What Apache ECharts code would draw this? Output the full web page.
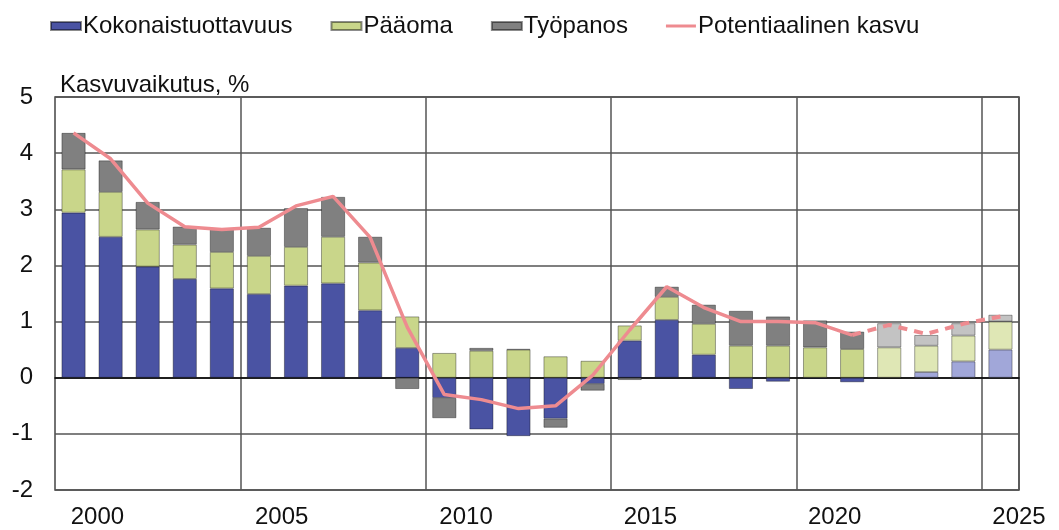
<!DOCTYPE html>
<html>
<head>
<meta charset="utf-8">
<script src="https://cdn.jsdelivr.net/npm/echarts@6/dist/echarts.min.js"></script>
<style>
  html, body { margin: 0; padding: 0; background: #fff; }
  #chart { width: 1059px; height: 530px; }
</style>
</head>
<body>
<div id="chart"></div>
<script>
// vuodet 1999-2024, viimeiset neljä ennustetta
const years = ['1999','2000','2001','2002','2003','2004','2005','2006','2007','2008',
  '2009','2010','2011','2012','2013','2014','2015','2016','2017','2018',
  '2019','2020','2021','2022','2023','2024']
const tfp = [2.94, 2.51, 1.98, 1.76, 1.59, 1.49, 1.64, 1.68, 1.20, 0.53,
  -0.36, -0.92, -1.04, -0.73, -0.11, 0.66, 1.03, 0.41, -0.20, -0.07,
  -0.02, -0.08, 0.00, 0.10, 0.29, 0.50]
const capital = [0.77, 0.80, 0.66, 0.61, 0.65, 0.68, 0.69, 0.83, 0.85, 0.56,
  0.44, 0.48, 0.50, 0.38, 0.30, 0.27, 0.41, 0.55, 0.57, 0.57,
  0.54, 0.51, 0.54, 0.47, 0.46, 0.50]
const labour = [0.65, 0.56, 0.49, 0.32, 0.42, 0.50, 0.69, 0.71, 0.46, -0.20,
  -0.36, 0.05, 0.01, -0.16, -0.12, -0.04, 0.18, 0.34, 0.62, 0.52,
  0.48, 0.31, 0.43, 0.19, 0.22, 0.12]
const potential = [4.36, 3.90, 3.11, 2.69, 2.64, 2.68, 3.06, 3.23, 2.50, 0.90,
  -0.30, -0.39, -0.55, -0.50, 0.04, 0.85, 1.62, 1.25, 1.00, 1.00,
  0.98, 0.76, 0.94, 0.78, 0.96, 1.09]
const xTickLabels = [2000, 2005, 2010, 2015, 2020, 2025]
const forecastStart = 22

const font = 'Liberation Sans, Arial, sans-serif'

function barData(values, color, lightColor) {
  return values.map((v, i) => ({
    value: v,
    itemStyle: { color: i >= forecastStart ? lightColor : color }
  }))
}

let myChart = echarts.init(document.getElementById('chart'))
myChart.setOption({
  animation: false,
  textStyle: { fontFamily: font },
  title: {
    text: 'Kasvuvaikutus, %',
    left: 55, top: 68,
    textStyle: { fontSize: 24, fontWeight: 'normal', color: '#111', fontFamily: font }
  },
  legend: {
    left: 45, top: 9,
    itemWidth: 30, itemHeight: 8, itemGap: 38,
    textStyle: { fontSize: 24, color: '#111', fontFamily: font, padding: [0, 0, 0, -3] },
    data: [
      { name: 'Kokonaistuottavuus', icon: 'rect' },
      { name: 'Pääoma', icon: 'rect' },
      { name: 'Työpanos', icon: 'rect' },
      { name: 'Potentiaalinen kasvu', icon: 'path://M0,0 L30,0 L30,3 L0,3 Z', itemStyle: { color: '#ee8b90' } }
    ]
  },
  grid: {
    left: 55, right: 40, top: 97, bottom: 40,
    show: true, borderColor: '#444', borderWidth: 1.5
  },
  xAxis: [
    {
      type: 'category',
      data: years,
      axisLine: { onZero: true, lineStyle: { color: '#000', width: 1.5 } },
      axisTick: { show: false },
      axisLabel: { show: false },
      splitLine: {
        show: true,
        interval: (i) => i > 0 && i % 5 === 0,
        lineStyle: { color: '#555', width: 1.5 }
      }
    },
    {
      type: 'value',
      position: 'bottom',
      min: 1998.85, max: 2025,
      axisLine: { show: false, onZero: false },
      axisTick: { show: false },
      splitLine: { show: false },
      axisLabel: {
        customValues: xTickLabels,
        formatter: (v) => String(v),
        fontSize: 24, color: '#111', margin: 15, fontFamily: font
      }
    }
  ],
  yAxis: {
    type: 'value',
    min: -2, max: 5, interval: 1,
    axisLine: { show: false },
    axisTick: { show: false },
    axisLabel: { fontSize: 24, color: '#111', margin: 22, fontFamily: font },
    splitLine: { lineStyle: { color: '#555', width: 1.5 } }
  },
  series: [
    {
      name: 'Kokonaistuottavuus', type: 'bar', stack: 'k', barWidth: 24,
      itemStyle: { color: '#4a53a3', borderColor: 'rgba(0,0,0,0.45)', borderWidth: 0.8 },
      data: barData(tfp, '#4a53a3', '#a1a7d9')
    },
    {
      name: 'Pääoma', type: 'bar', stack: 'k', barWidth: 24,
      itemStyle: { color: '#c9d68a', borderColor: 'rgba(0,0,0,0.45)', borderWidth: 0.8 },
      data: barData(capital, '#c9d68a', '#dfe7b5')
    },
    {
      name: 'Työpanos', type: 'bar', stack: 'k', barWidth: 24,
      itemStyle: { color: '#808080', borderColor: 'rgba(0,0,0,0.45)', borderWidth: 0.8 },
      data: barData(labour, '#808080', '#c3c3c3')
    },
    {
      name: 'Potentiaalinen kasvu', type: 'line', symbol: 'none', z: 5,
      lineStyle: { color: '#ee8b90', width: 3.5 },
      itemStyle: { color: '#ee8b90' },
      data: potential.map((v, i) => i <= forecastStart - 1 ? v : null)
    },
    {
      name: 'Potentiaalinen kasvu', type: 'line', symbol: 'none', z: 5,
      lineStyle: { color: '#ee8b90', width: 4, type: [9, 7] },
      itemStyle: { color: '#ee8b90' },
      data: potential.map((v, i) => i >= forecastStart - 1 ? v : null)
    }
  ]
})
</script>
</body>
</html>
